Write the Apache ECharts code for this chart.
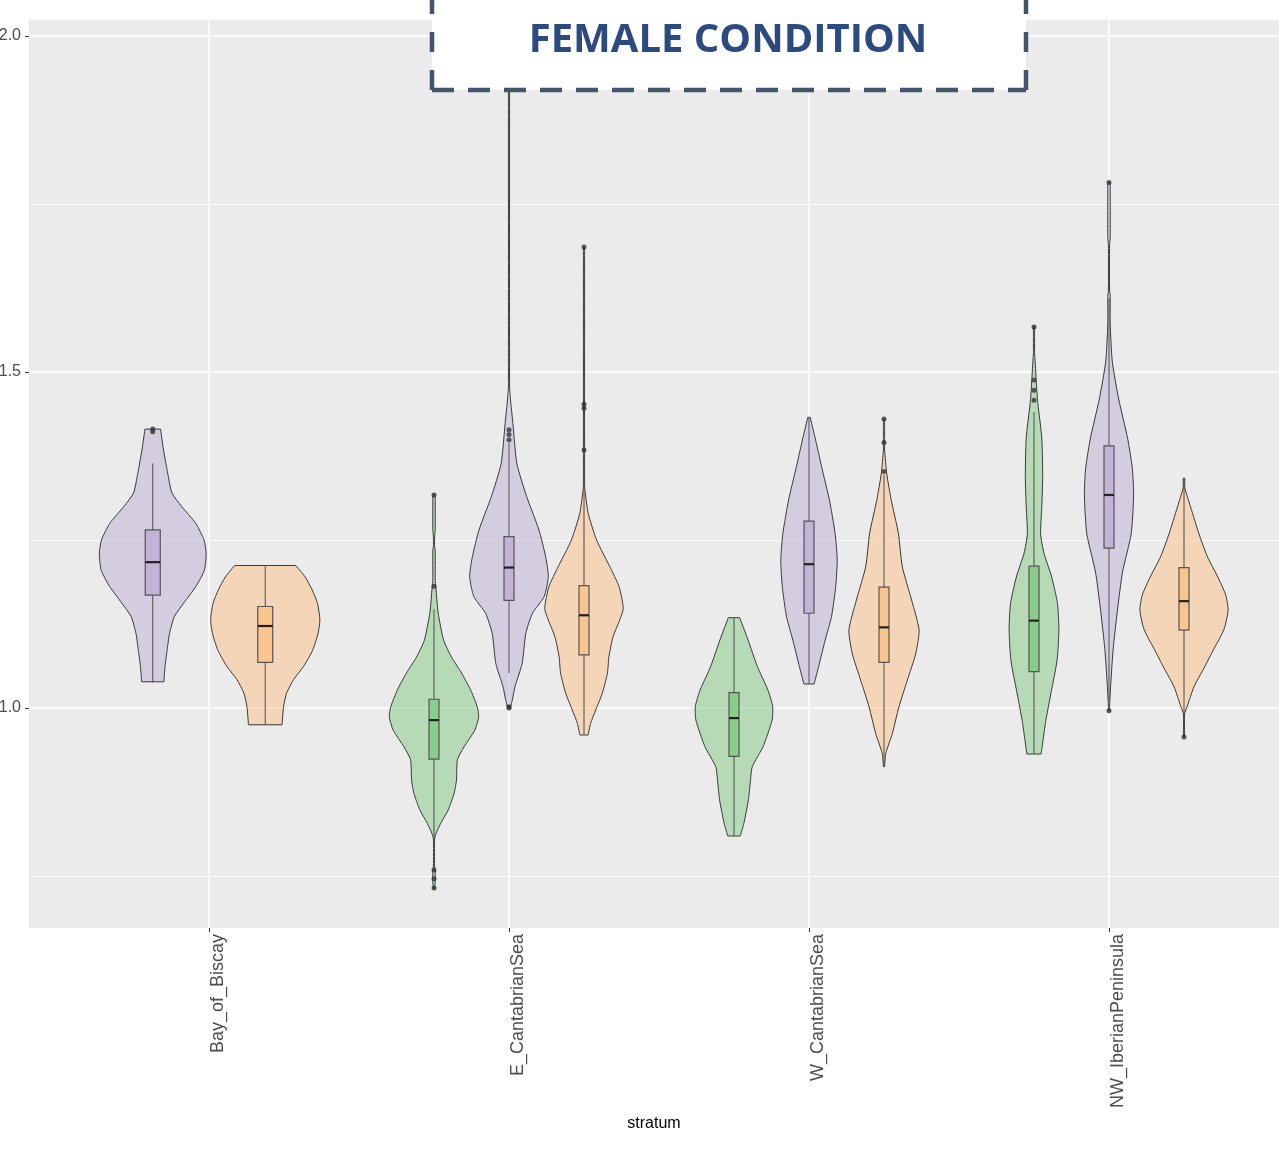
<!DOCTYPE html>
<html><head><meta charset="utf-8">
<script src="https://cdn.jsdelivr.net/npm/echarts@6/dist/echarts.min.js"></script>
<style>html,body{margin:0;padding:0;background:#fff}#c{width:1279px;height:1161px}</style>
</head><body><div id="c"></div><script>
// ---------- data ----------
const categories = ['Bay_of_Biscay', 'E_CantabrianSea', 'W_CantabrianSea', 'NW_IberianPeninsula'];
const groupNames = ['Group 1', 'Group 2', 'Group 3'];
const groupColors = ['#7FC97F', '#BEAED4', '#FDC086'];
const yMajorTicks = [1.0, 1.5, 2.0];
const yMinorTicks = [0.75, 1.25, 1.75];
const xTickValues = [0, 1, 2, 3];
const titleText = 'FEMALE CONDITION';
const xAxisTitle = 'stratum';

// violin outlines: [value, half-width in category units], top to bottom
const violinBay2 = [[1.415,0.026],[1.384,0.036],[1.349,0.050],[1.320,0.064],[1.300,0.096],[1.275,0.143],[1.250,0.171],[1.230,0.178],[1.205,0.172],[1.181,0.144],[1.156,0.103],[1.136,0.072],[1.111,0.056],[1.086,0.048],[1.062,0.041],[1.039,0.037]];
const violinBay3 = [[1.212,0.102],[1.195,0.133],[1.176,0.156],[1.156,0.174],[1.131,0.182],[1.111,0.176],[1.086,0.158],[1.062,0.128],[1.042,0.094],[1.022,0.071],[1.002,0.061],[0.975,0.056]];
const violinE1 = [[1.317,0.004],[1.265,0.004],[1.255,0.002],[1.240,0.002],[1.235,0.004],[1.190,0.004],[1.1805,0.006],[1.141,0.014],[1.101,0.032],[1.076,0.058],[1.052,0.092],[1.027,0.122],[1.002,0.144],[0.987,0.149],[0.967,0.136],[0.942,0.100],[0.923,0.078],[0.893,0.075],[0.873,0.067],[0.848,0.047],[0.828,0.022],[0.8135,0.007],[0.805,0.002],[0.765,0.002],[0.757,0.004],[0.740,0.004],[0.732,0.002]];
const violinE2 = [[1.940,0.002],[1.475,0.002],[1.470,0.003],[1.4534,0.006],[1.4236,0.013],[1.364,0.026],[1.3144,0.059],[1.2649,0.100],[1.2252,0.122],[1.1954,0.131],[1.1656,0.117],[1.1409,0.078],[1.1111,0.056],[1.0665,0.044],[1.0317,0.020],[1.0119,0.011],[1.002,0.006]];
const violinE3 = [[1.686,0.002],[1.330,0.002],[1.3244,0.003],[1.2897,0.014],[1.250,0.042],[1.2103,0.086],[1.1805,0.117],[1.1482,0.131],[1.131,0.119],[1.1062,0.097],[1.0763,0.083],[1.0516,0.078],[1.0218,0.061],[0.997,0.039],[0.977,0.022],[0.9598,0.014]];
const violinW1 = [[1.1344,0.019],[1.1012,0.047],[1.0615,0.078],[1.0268,0.113],[1.002,0.129],[0.9821,0.127],[0.9424,0.097],[0.9127,0.061],[0.8879,0.054],[0.8631,0.048],[0.8284,0.033],[0.8095,0.021]];
const violinW2 = [[1.4325,0.004],[1.3988,0.022],[1.3591,0.042],[1.3095,0.068],[1.260,0.087],[1.2202,0.094],[1.1805,0.089],[1.1359,0.075],[1.1012,0.054],[1.0615,0.032],[1.0357,0.017]];
const violinW3 = [[1.4296,0.002],[1.390,0.002],[1.3839,0.002],[1.3492,0.009],[1.3095,0.024],[1.260,0.048],[1.2103,0.061],[1.1607,0.092],[1.1161,0.117],[1.0814,0.106],[1.0417,0.078],[1.002,0.050],[0.9623,0.028],[0.9325,0.006],[0.9127,0.002]];
const violinN1 = [[1.5674,0.002],[1.525,0.002],[1.5211,0.003],[1.4754,0.009],[1.4527,0.013],[1.4015,0.026],[1.3445,0.029],[1.299,0.026],[1.2591,0.022],[1.2306,0.033],[1.1964,0.058],[1.1565,0.078],[1.1167,0.083],[1.0711,0.077],[1.0256,0.058],[0.980,0.039],[0.9315,0.024]];
const violinN2 = [[1.7817,0.004],[1.700,0.004],[1.690,0.002],[1.620,0.002],[1.6146,0.004],[1.5723,0.004],[1.5153,0.011],[1.4583,0.033],[1.4015,0.062],[1.3559,0.078],[1.3161,0.082],[1.2591,0.074],[1.2021,0.045],[1.1451,0.028],[1.0882,0.014],[1.0369,0.006],[1.0028,0.002],[0.9955,0.002]];
const violinN3 = [[1.3417,0.003],[1.3274,0.003],[1.299,0.022],[1.2591,0.050],[1.225,0.078],[1.1965,0.111],[1.1682,0.139],[1.1452,0.147],[1.1167,0.133],[1.0882,0.100],[1.0598,0.067],[1.0313,0.033],[1.0028,0.011],[0.9914,0.002],[0.9573,0.002]];

// boxplot stats: [lower whisker, Q1, median, Q3, upper whisker]
const boxBay2 = [1.038, 1.168, 1.217, 1.265, 1.364];
const boxBay3 = [0.975, 1.068, 1.122, 1.151, 1.212];
const boxE1 = [0.800, 0.924, 0.982, 1.013, 1.147];
const boxE2 = [1.052, 1.160, 1.209, 1.255, 1.395];
const boxE3 = [0.960, 1.079, 1.138, 1.182, 1.330];
const boxW1 = [0.810, 0.928, 0.985, 1.023, 1.134];
const boxW2 = [1.036, 1.141, 1.214, 1.278, 1.432];
const boxW3 = [0.913, 1.068, 1.120, 1.180, 1.347];
const boxN1 = [0.932, 1.054, 1.130, 1.211, 1.440];
const boxN2 = [1.010, 1.238, 1.317, 1.390, 1.610];
const boxN3 = [0.990, 1.116, 1.159, 1.209, 1.342];

// outliers
const outBay2 = [1.415, 1.411];
const outBay3 = [];
const outE1 = [1.317, 1.181, 0.759, 0.746, 0.732];
const outE2 = [1.940, 1.414, 1.407, 1.399, 1.002, 1.000];
const outE3 = [1.686, 1.452, 1.446, 1.384];
const outW1 = [];
const outW2 = [];
const outW3 = [1.430, 1.395, 1.352];
const outN1 = [1.567, 1.488, 1.473, 1.458];
const outN2 = [1.782, 0.996];
const outN3 = [0.957];

// ---------- assemble ----------
const cells = [
  {cat: 0, grp: 1, violin: violinBay2, box: boxBay2, out: outBay2},
  {cat: 0, grp: 2, violin: violinBay3, box: boxBay3, out: outBay3},
  {cat: 1, grp: 0, violin: violinE1, box: boxE1, out: outE1},
  {cat: 1, grp: 1, violin: violinE2, box: boxE2, out: outE2},
  {cat: 1, grp: 2, violin: violinE3, box: boxE3, out: outE3},
  {cat: 2, grp: 0, violin: violinW1, box: boxW1, out: outW1},
  {cat: 2, grp: 1, violin: violinW2, box: boxW2, out: outW2},
  {cat: 2, grp: 2, violin: violinW3, box: boxW3, out: outW3},
  {cat: 3, grp: 0, violin: violinN1, box: boxN1, out: outN1},
  {cat: 3, grp: 1, violin: violinN2, box: boxN2, out: outN2},
  {cat: 3, grp: 2, violin: violinN3, box: boxN3, out: outN3}
];
// dodge positions (ggplot position_dodge width 0.75, box width 0.1)
cells.forEach(c => {
  const same = cells.filter(d => d.cat === c.cat).sort((a, b) => a.grp - b.grp);
  const n = same.length, k = same.indexOf(c);
  c.x = c.cat + (k - (n - 1) / 2) * (0.75 / n);
  c.boxW = 0.1 / n;
});

function rgba(hex, a) {
  const r = parseInt(hex.slice(1, 3), 16), g = parseInt(hex.slice(3, 5), 16), b = parseInt(hex.slice(5, 7), 16);
  return 'rgba(' + r + ',' + g + ',' + b + ',' + a + ')';
}

const series = [];
groupNames.forEach((name, g) => {
  const mine = cells.filter(c => c.grp === g);
  series.push({
    type: 'custom', name: name, clip: true, z: 2, silent: true,
    data: mine.map(c => [c.x, c.box[2]]),
    renderItem: function (params, api) {
      const c = mine[params.dataIndex];
      const right = c.violin.map(p => api.coord([c.x + p[1], p[0]]));
      const left = c.violin.map(p => api.coord([c.x - p[1], p[0]])).reverse();
      const b = c.box;
      const top = api.coord([c.x, b[4]]), q3 = api.coord([c.x - c.boxW / 2, b[3]]);
      const q1 = api.coord([c.x + c.boxW / 2, b[1]]), bot = api.coord([c.x, b[0]]);
      const mL = api.coord([c.x - c.boxW / 2, b[2]]), mR = api.coord([c.x + c.boxW / 2, b[2]]);
      const cx = top[0];
      const fillCol = rgba(groupColors[g], 0.5);
      const outline = '#3a3a3a';
      return {
        type: 'group',
        children: [
          {type: 'polygon', shape: {points: right.concat(left)},
           style: {fill: fillCol, stroke: null}},
          {type: 'polyline', shape: {points: right, smooth: 0.2},
           style: {fill: null, stroke: outline, lineWidth: 1}},
          {type: 'polyline', shape: {points: left, smooth: 0.2},
           style: {fill: null, stroke: outline, lineWidth: 1}},
          {type: 'line', shape: {x1: right[0][0], y1: right[0][1], x2: left[left.length - 1][0], y2: left[left.length - 1][1]},
           style: {stroke: outline, lineWidth: 1}},
          {type: 'line', shape: {x1: right[right.length - 1][0], y1: right[right.length - 1][1], x2: left[0][0], y2: left[0][1]},
           style: {stroke: outline, lineWidth: 1}},
          {type: 'line', shape: {x1: cx, y1: top[1], x2: cx, y2: q3[1]},
           style: {stroke: '#4d4d4d', lineWidth: 1}},
          {type: 'line', shape: {x1: cx, y1: q1[1], x2: cx, y2: bot[1]},
           style: {stroke: '#4d4d4d', lineWidth: 1}},
          {type: 'rect', shape: {x: q3[0], y: q3[1], width: q1[0] - q3[0], height: q1[1] - q3[1]},
           style: {fill: rgba(groupColors[g], 0.8), stroke: '#555555', lineWidth: 1.2}},
          {type: 'line', shape: {x1: mL[0], y1: mL[1], x2: mR[0], y2: mR[1]},
           style: {stroke: '#222222', lineWidth: 2.2}}
        ]
      };
    }
  });
});
const outlierPts = [];
cells.forEach(c => c.out.forEach(v => outlierPts.push([c.x, v])));
series.push({
  type: 'scatter', name: 'outliers', data: outlierPts, symbol: 'circle', symbolSize: 5,
  itemStyle: {color: '#333333'}, z: 5, silent: true, clip: true
});

const chart = echarts.init(document.getElementById('c'), null, {renderer: 'canvas'});
chart.setOption({
  animation: false,
  backgroundColor: '#ffffff',
  grid: {left: 29, top: 20, width: 1250, height: 908, show: true, backgroundColor: '#EBEBEB', borderWidth: 0,
         containLabel: false, outerBoundsMode: 'none'},
  xAxis: {
    type: 'value', min: -0.6, max: -0.6 + 1250 / 300,
    name: xAxisTitle, nameLocation: 'middle', nameGap: 180,
    nameTextStyle: {fontFamily: 'Liberation Sans', fontSize: 16, color: '#000'},
    axisLine: {show: false, onZero: false},
    axisTick: {show: true, customValues: xTickValues, length: 4, lineStyle: {color: '#333', width: 1}},
    axisLabel: {
      customValues: xTickValues, formatter: v => categories[Math.round(v)],
      rotate: 90, verticalAlign: 'top', margin: 6,
      fontFamily: 'Liberation Sans', fontSize: 18, color: '#4d4d4d'
    },
    splitLine: {show: true, lineStyle: {color: '#ffffff', width: 1.5}}
  },
  yAxis: [{
    type: 'value', min: 0.6726, max: 2.0238,
    axisLine: {show: false, onZero: false},
    axisTick: {show: true, customValues: yMajorTicks, length: 4, lineStyle: {color: '#333', width: 1}},
    axisLabel: {customValues: yMajorTicks, formatter: v => v.toFixed(1), margin: 8,
      fontFamily: 'Liberation Sans', fontSize: 16, color: '#4d4d4d'},
    splitLine: {show: true, lineStyle: {color: '#ffffff', width: 1.5}}
  }, {
    type: 'value', min: 0.6726, max: 2.0238, position: 'left',
    axisLine: {show: false, onZero: false},
    axisTick: {show: false, customValues: yMinorTicks},
    axisLabel: {show: false, customValues: yMinorTicks},
    splitLine: {show: true, lineStyle: {color: '#ffffff', width: 0.8}}
  }],
  series: series,
  graphic: {elements: [
    {type: 'rect', z: 100, silent: true, shape: {x: 432, y: -10, width: 594, height: 100},
     style: {fill: '#ffffff', stroke: null}},
    {type: 'polyline', z: 101, silent: true, shape: {points: [[432, 90], [1026, 90]]},
     style: {stroke: '#44546a', lineWidth: 4.5, lineDash: [22, 14], fill: null}},
    {type: 'polyline', z: 101, silent: true, shape: {points: [[432, 90], [432, -10]]},
     style: {stroke: '#44546a', lineWidth: 4.5, lineDash: [20, 18], fill: null}},
    {type: 'polyline', z: 101, silent: true, shape: {points: [[1026, 90], [1026, -10]]},
     style: {stroke: '#44546a', lineWidth: 4.5, lineDash: [20, 18], fill: null}},
    {type: 'text', z: 102, silent: true, x: 728, y: 41,
     style: {text: titleText, fill: '#2a4a80', font: 'bold 40px "Open Sans"', textAlign: 'center', textVerticalAlign: 'middle'}}
  ]}
});
</script></body></html>
